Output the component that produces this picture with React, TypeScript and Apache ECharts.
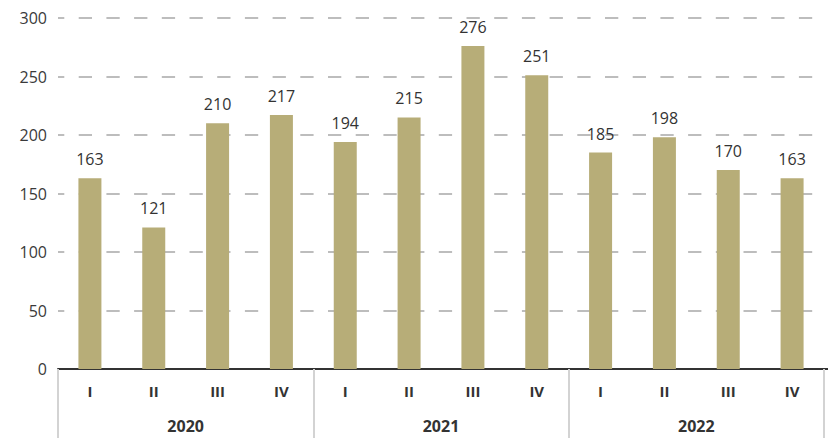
import React, { useEffect, useRef } from "react";
import * as echarts from "echarts";

const quarters = ["I", "II", "III", "IV", "I", "II", "III", "IV", "I", "II", "III", "IV"];
const years = ["2020", "2021", "2022"];
const values = [163, 121, 210, 217, 194, 215, 276, 251, 185, 198, 170, 163];
const yTicks = { min: 0, max: 300, interval: 50 };

export default function App() {
  const ref = useRef<HTMLDivElement>(null);
  useEffect(() => {
    document.body.style.margin = "0";
    if (!ref.current) return;
    const chart = echarts.init(ref.current, null, { renderer: "svg" });
    const font = "'Open Sans', 'Noto Sans', sans-serif";
    chart.setOption({
      animation: false,
      grid: { left: 58, right: 4, top: 18, bottom: 69, containLabel: false },
      xAxis: [
        {
          type: "category",
          data: quarters,
          position: "bottom",
          axisLine: { show: true, lineStyle: { color: "#333", width: 2 } },
          axisTick: { show: false },
          axisLabel: { color: "#333", fontWeight: "bold", fontSize: 15, margin: 14, fontFamily: font },
        },
        {
          type: "category",
          data: years,
          position: "bottom",
          offset: 0,
          axisLine: { show: false },
          axisTick: { show: true, length: 70, lineStyle: { color: "#d3d3d3", width: 2 } },
          axisLabel: {
            color: "#333",
            fontWeight: "bold",
            fontSize: 16,
            lineHeight: 16,
            margin: 49,
            fontFamily: font,
          },
        },
      ],
      yAxis: {
        type: "value",
        min: yTicks.min,
        max: yTicks.max,
        interval: yTicks.interval,
        axisLine: { show: false },
        axisTick: { show: false },
        axisLabel: { color: "#3a3a3a", fontSize: 16, margin: 11, fontFamily: font },
        splitLine: {
          show: true,
          lineStyle: { color: "#a8a8a8", width: 1.5, type: [13.3, 14.4], dashOffset: 7.3 },
        },
      },
      series: [
        {
          type: "bar",
          data: values,
          xAxisIndex: 0,
          barWidth: 23,
          itemStyle: { color: "#b7ad78" },
          label: {
            show: true,
            position: "top",
            distance: 11,
            color: "#333",
            fontSize: 16,
            fontFamily: font,
          },
        },
      ],
      graphic: [
        {
          type: "line",
          shape: { x1: 824, y1: 369, x2: 828, y2: 369 },
          style: { stroke: "#333", lineWidth: 2 },
        },
      ],
    });
    return () => chart.dispose();
  }, []);
  return <div ref={ref} style={{ width: 828, height: 438 }} />;
}
